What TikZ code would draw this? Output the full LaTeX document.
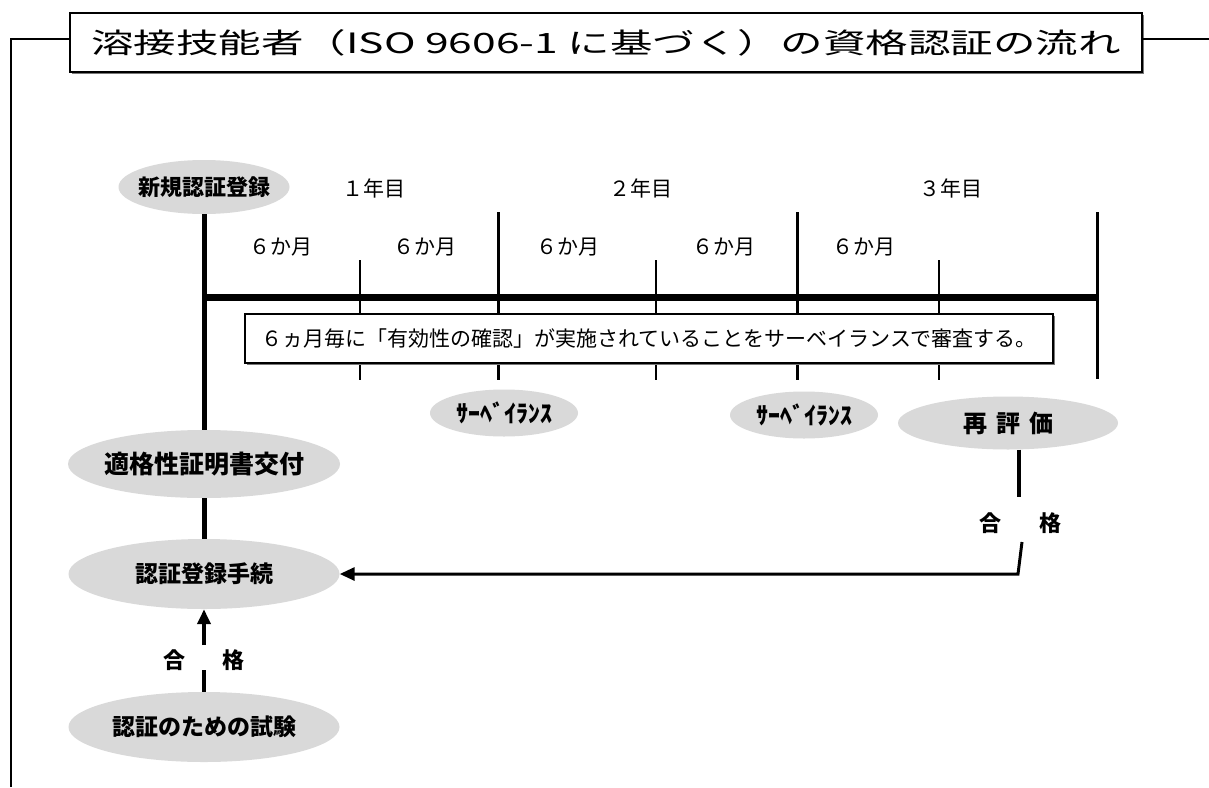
\documentclass[tikz,border=0pt]{standalone}
\usepackage{fontspec}
\setmainfont{Noto Sans CJK JP}
\usetikzlibrary{shapes.geometric,arrows.meta,shadows}
\definecolor{ellgray}{RGB}{217,217,217}
\definecolor{shgray}{RGB}{120,120,120}
\newcommand{\fs}[1]{\fontsize{#1}{#1}\selectfont}
\begin{document}
\begin{tikzpicture}[x=1pt,y=-1pt,
  oval/.style={ellipse, fill=ellgray, inner sep=0pt, font=\bfseries\fs{23}},
  framebox/.style={draw, fill=white, line width=1.3pt, inner sep=0pt,
    drop shadow={shadow xshift=2pt, shadow yshift=-2pt, fill=shgray, opacity=1}},
  frameline/.style={line width=1.4pt},
  mainline/.style={line width=5pt},
  barline/.style={line width=7pt},
  yeartick/.style={line width=3pt},
  halftick/.style={line width=2pt},
  passline/.style={line width=4pt},
  backline/.style={line width=3pt},
  lbl/.style={inner sep=0pt, font=\fs{21}},
  passlbl/.style={inner sep=0pt, font=\bfseries\fs{22}},
  tip/.style={-{Triangle[length=15pt,width=13pt]}}
]
\useasboundingbox (0,0) rectangle (1209,787);
\fill[white] (0,0) rectangle (1209,787);

% title and frame
\node[framebox, minimum width=1072pt, minimum height=59pt] (title) at (606,42.5)
  {\raisebox{-4pt}{\scalebox{1.52}[1]{\fs{28}溶接技能者（ISO 9606-1 に基づく）の資格認証の流れ}}};
\coordinate (frameL) at (11,787);
\coordinate (frameR) at (1209,39);
\draw[frameline] (frameL) |- ([yshift=3.5pt]title.west);
\draw[frameline] ([yshift=3.5pt]title.east) -- (frameR);

% ellipses
\node[oval, minimum width=171pt, minimum height=54pt, font=\bfseries\fs{22}] (newreg) at (204,187) {\makebox[0pt]{新規認証登録}};
\node[oval, minimum width=272pt, minimum height=68pt, font=\bfseries\fs{25}] (cert) at (204,464) {\makebox[0pt]{適格性証明書交付}};
\node[oval, minimum width=271pt, minimum height=70pt] (reg) at (204,574) {\makebox[0pt]{認証登録手続}};
\node[oval, minimum width=271pt, minimum height=70pt] (exam) at (204,727) {\makebox[0pt]{認証のための試験}};
\node[oval, minimum width=148pt, minimum height=47pt, font=\bfseries\fs{24}] (surv1) at (504,413) {\makebox[0pt]{ｻｰﾍﾞｲﾗﾝｽ}};
\node[oval, minimum width=148pt, minimum height=47pt, font=\bfseries\fs{24}] (surv2) at (804,415) {\makebox[0pt]{ｻｰﾍﾞｲﾗﾝｽ}};
\node[oval, minimum width=220pt, minimum height=53pt, font=\bfseries\fs{24}] (reeval) at (1008,423) {\makebox[0pt]{再\hspace{9pt}評\hspace{9pt}価}};

% timeline
\draw[yeartick] (498,212) -- (498,380);
\draw[yeartick] (797,212) -- (797,380);
\draw[yeartick] (1097,212) -- (1097,379);
\draw[halftick] (360,260) -- (360,380);
\draw[halftick] (656,260) -- (656,380);
\draw[halftick] (939,260) -- (939,380);
\coordinate (barend) at (1097,297);
\draw[barline] (newreg.south |- barend) -- (barend);
\draw[mainline] (newreg) -- (cert);
\draw[mainline] (cert) -- (reg);

\node[lbl] (y1) at (374,188) {１年目};
\node[lbl] (y2) at (641,188) {２年目};
\node[lbl] (y3) at (951,188) {３年目};
\node[lbl] (m1) at (281,247) {６か月};
\node[lbl] (m2) at (425,247) {６か月};
\node[lbl] (m3) at (568,247) {６か月};
\node[lbl] (m4) at (724,247) {６か月};
\node[lbl] (m5) at (864,247) {６か月};

\node[framebox, minimum width=808pt, minimum height=49pt, font=\fs{21}] (note) at (649,338.5)
  {６ヵ月毎に「有効性の確認」が実施されていることをサーベイランスで審査する。};

% exam -> registration
\node[passlbl] (pass1) at (204,660) {合\hspace{38pt}格};
\coordinate (p1a) at (204,670);
\coordinate (p1b) at (204,645);
\draw[passline] (exam) -- (p1a);
\draw[passline, tip] (p1b) -- (reg);

% re-evaluation -> registration
\node[passlbl] (pass2) at (1020,523) {合\hspace{38pt}格};
\coordinate (r1) at (1019,497);
\coordinate (r2) at (1022,542);
\coordinate (r3) at (1018,574);
\draw[passline] (reeval.south -| r1) -- (r1);
\draw[backline, tip] (r2) -- (r3) -- (reg.east);
\end{tikzpicture}
\end{document}
